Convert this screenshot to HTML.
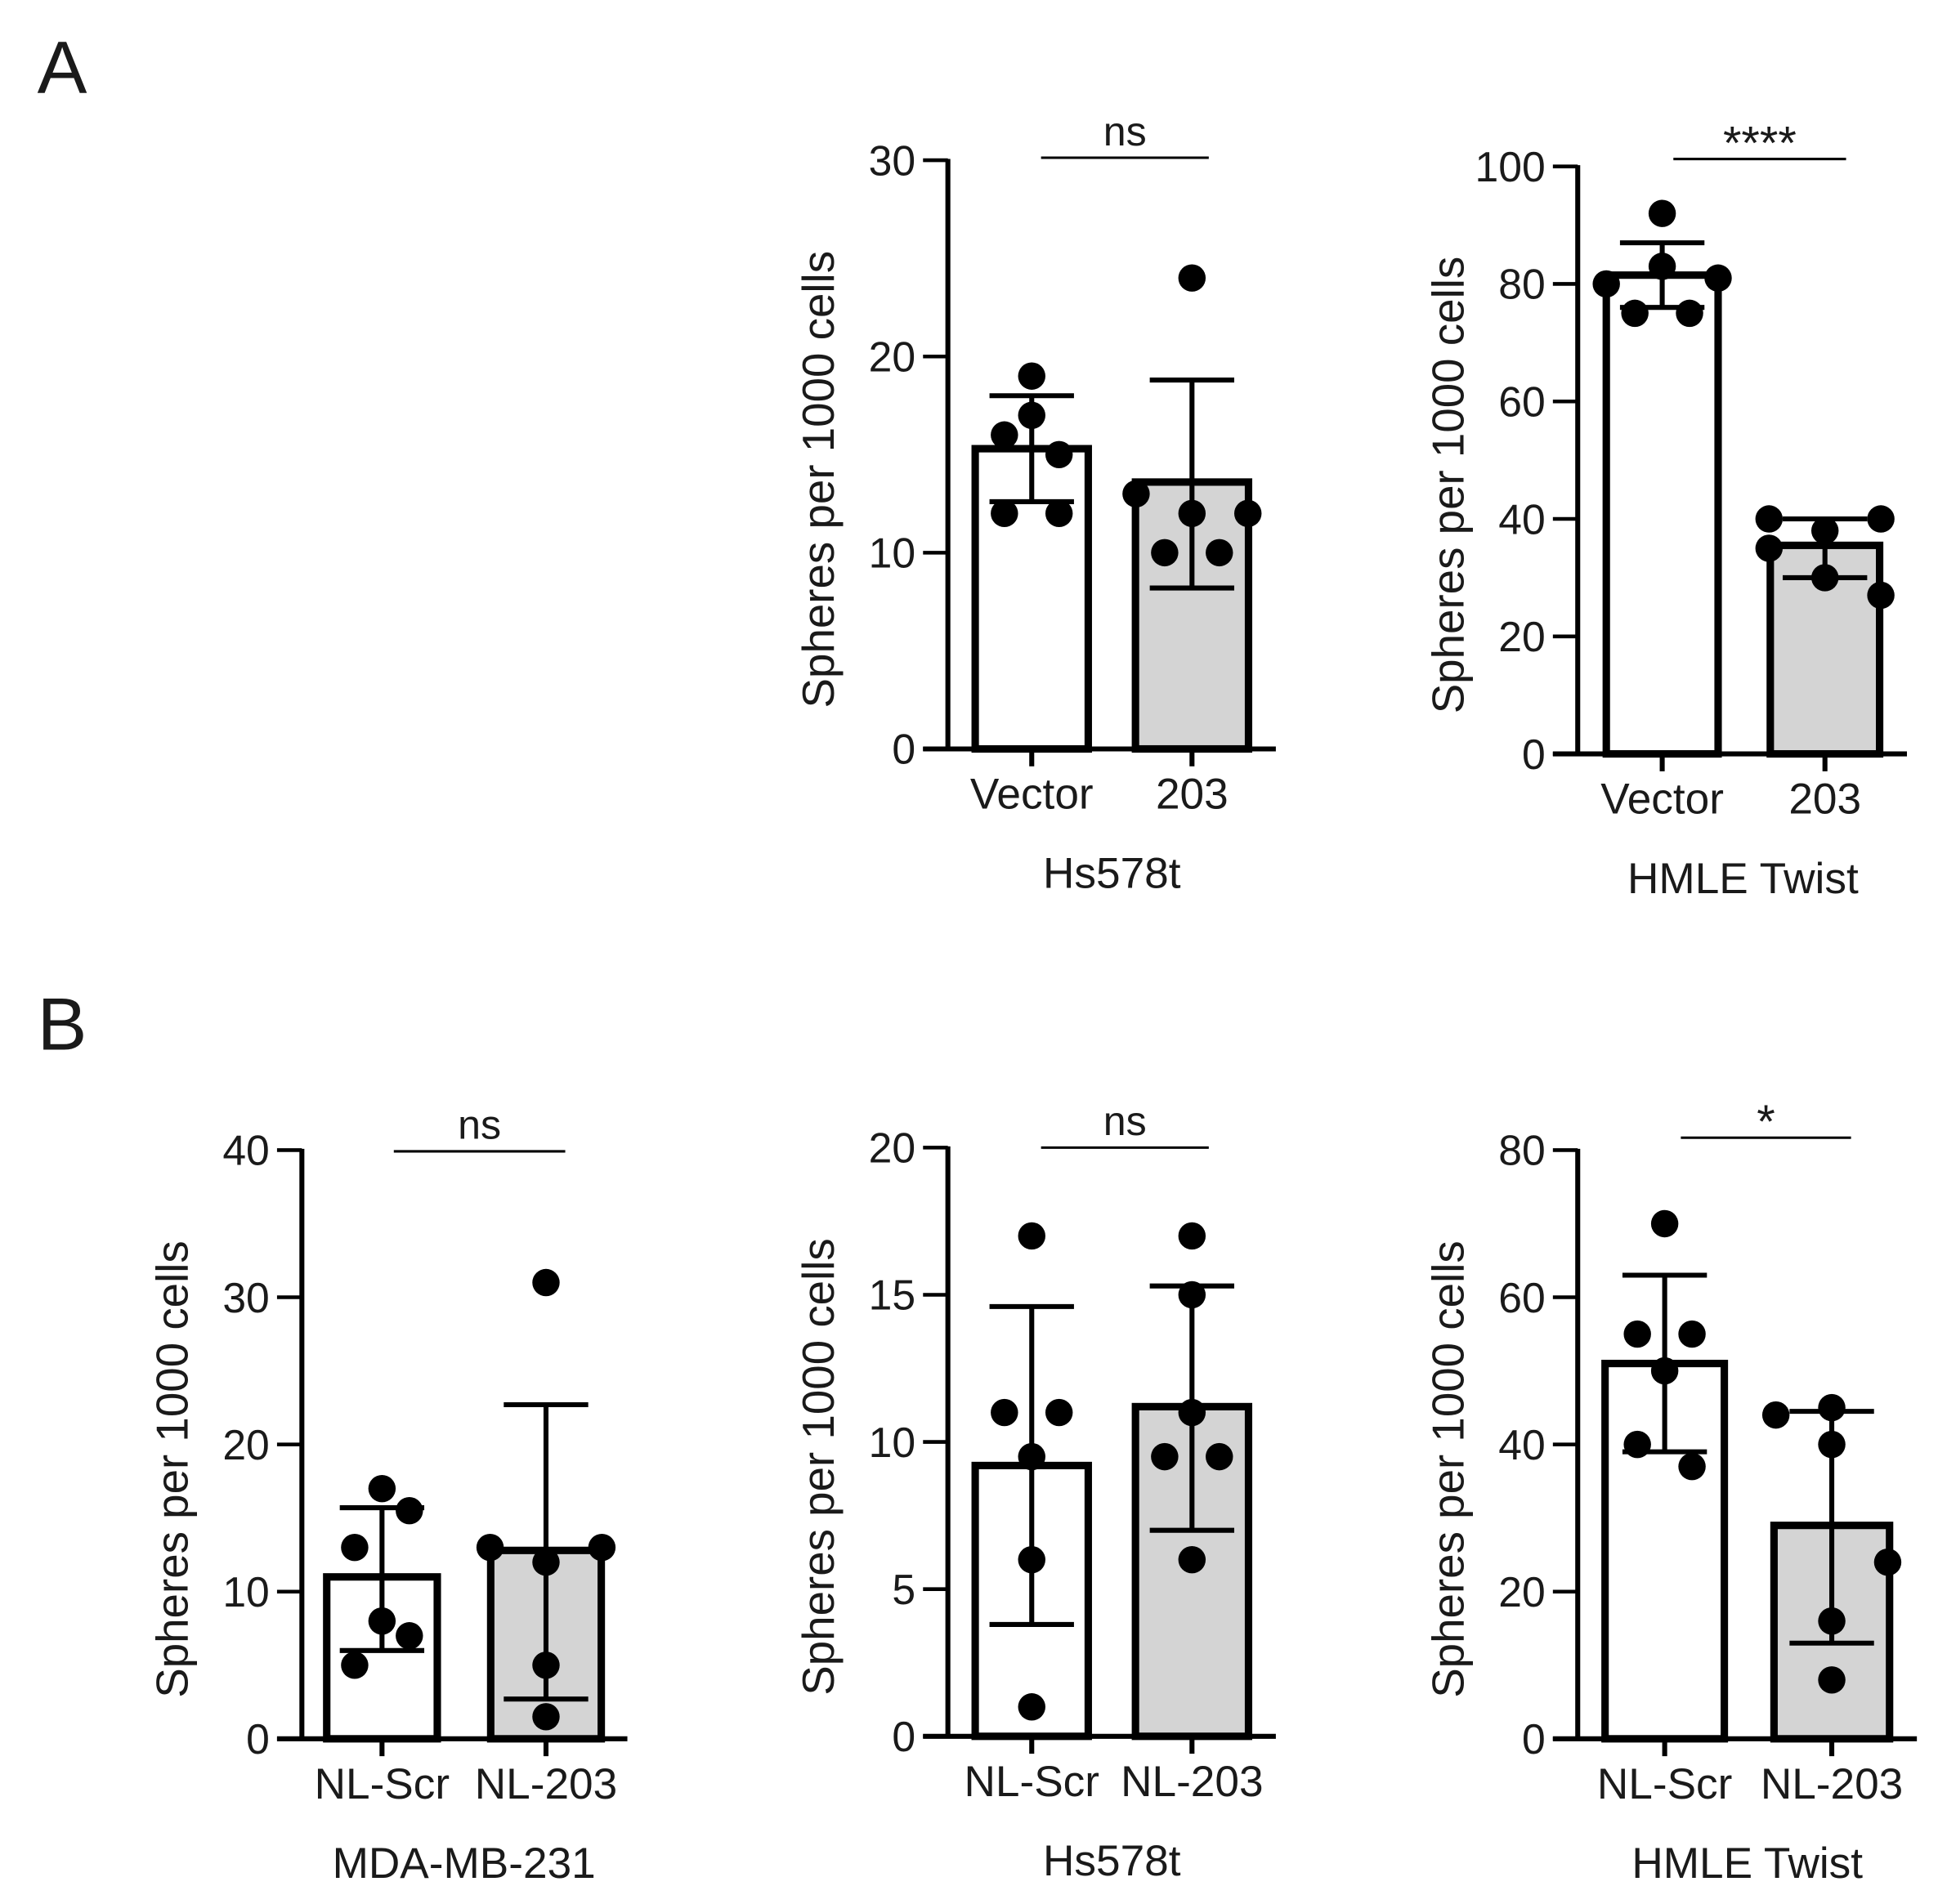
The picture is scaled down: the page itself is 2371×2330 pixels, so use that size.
<!DOCTYPE html>
<html><head><meta charset="utf-8"><style>
html,body{margin:0;padding:0;background:#fff}
svg{display:block}
text{font-family:"Liberation Sans",Arial,sans-serif;fill:#1a1a1a}
</style></head><body>
<svg id="fig" width="2371" height="2330" viewBox="0 0 1560 1533" xmlns="http://www.w3.org/2000/svg">
<text x="30" y="75" font-size="60">A</text>
<text x="30" y="845" font-size="60">B</text>
</svg>
<script>
// Panel data arrays
const catsA = ["Vector", "203"];
const catsB = ["NL-Scr", "NL-203"];
const a1Means = [15.3, 13.6];
const a1Lo = [12.6, 8.2];
const a1Hi = [18.0, 18.8];
const a1Pts = [[19, 17, 16, 15, 12, 12], [24, 13, 12, 12, 10, 10]];
const a1Ticks = [0, 10, 20, 30];
const a2Means = [81.5, 35.5];
const a2Lo = [76, 30];
const a2Hi = [87, 40];
const a2Pts = [[92, 83, 80, 81, 75, 75], [40, 40, 38, 35, 30, 27]];
const a2Ticks = [0, 20, 40, 60, 80, 100];
const b1Means = [11, 12.8];
const b1Lo = [6, 2.7];
const b1Hi = [15.7, 22.7];
const b1Pts = [[17, 15.5, 13, 8, 7, 5], [31, 13, 13, 12, 5, 1.5]];
const b1Ticks = [0, 10, 20, 30, 40];
const b2Means = [9.2, 11.2];
const b2Lo = [3.8, 7.0];
const b2Hi = [14.6, 15.3];
const b2Pts = [[17, 11, 11, 9.5, 6, 1], [17, 15, 11, 9.5, 9.5, 6]];
const b2Ticks = [0, 5, 10, 15, 20];
const b3Means = [51, 29];
const b3Lo = [39, 13];
const b3Hi = [63, 44.5];
const b3Pts = [[70, 55, 55, 50, 40, 37], [45, 44, 40, 24, 16, 8]];
const b3Ticks = [0, 20, 40, 60, 80];

const NS = "http://www.w3.org/2000/svg";
const svg = document.getElementById("fig");
function mk(tag, attrs, parent){const e=document.createElementNS(NS,tag);for(const k in attrs)e.setAttribute(k,attrs[k]);(parent||svg).appendChild(e);return e;}
const jitterA1 = [[0,0,-22,22,-22,22],[0,-45,0,45,-22,22]];
const jitterA2 = [[0,0,-45,45,-22,22],[-45,45,0,-45,0,45]];
const jitterB1 = [[0,22,-22,0,22,-22],[0,-45,45,0,0,0]];
const jitterB2 = [[0,-22,22,0,0,0],[0,0,0,-22,22,0]];
const jitterB3 = [[0,-22,22,0,-22,22],[0,-45,0,45,0,0]];

function panel(o){
  const g = mk("g", {});
  
  
  const ymax = o.ticks[o.ticks.length-1];
  const y = v => o.y0 - (v/ymax)*(o.y0-o.yTop);
  const ax = mk("line",{x1:o.ax,y1:o.yTop-1,x2:o.ax,y2:o.y0,stroke:"#000","stroke-width":4},g);
  
  
  o.ticks.forEach(t=>{
    mk("line",{x1:o.ax-20,y1:y(t),x2:o.ax,y2:y(t),stroke:"#000","stroke-width":3},g);
    const tl = mk("text",{x:o.ax-26,y:y(t)+12,"font-size":34,"text-anchor":"end"},g);
    tl.textContent=t;
    
    
  });
  const xa = mk("line",{x1:o.ax-20,y1:o.y0,x2:o.xEnd,y2:o.y0,stroke:"#000","stroke-width":4},g);
  
  
  const yc=(o.yTop+o.y0)/2+20;
  const tx=o.ax-105;
  const yt = mk("text",{x:tx,y:yc,"font-size":36,"text-anchor":"middle",transform:`rotate(-90 ${tx} ${yc})`,dy:13},g);
  yt.textContent="Spheres per 1000 cells";
  
  
  o.cats.forEach((c,i)=>{
    const bx=o.bars[i][0], bw=o.bars[i][1]-o.bars[i][0], cx=bx+bw/2;
    const bar = mk("rect",{x:bx,y:y(o.means[i]),width:bw,height:o.y0-y(o.means[i]),fill:i?"#d4d4d4":"#fff",stroke:"#000","stroke-width":6},g);
    
    
    mk("line",{x1:cx,y1:o.y0,x2:cx,y2:o.y0+14,stroke:"#000","stroke-width":4},g);
    const xl = mk("text",{x:cx,y:o.y0+48,"font-size":35,"text-anchor":"middle"},g);
    xl.textContent=c;
    
    
    const eb = mk("path",{d:`M${cx},${y(o.lo[i])}V${y(o.hi[i])}M${cx-34},${y(o.hi[i])}H${cx+34}M${cx-34},${y(o.lo[i])}H${cx+34}`,stroke:"#000","stroke-width":4,fill:"none"},g);
    
    
    o.pts[i].forEach((p,j)=>{
      const d = mk("circle",{cx:cx+o.jit[i][j],cy:y(p),r:11,fill:"#000"},g);
      
      
    });
  });
  const sl = mk("line",{x1:o.sig[0],y1:o.sig[2],x2:o.sig[1],y2:o.sig[2],stroke:"#000","stroke-width":2},g);
  
  
  const st = mk("text",{x:(o.sig[0]+o.sig[1])/2,y:o.sig[2]-(o.sigTxt==="ns"?10:0),"font-size":o.sigTxt==="ns"?33:38,"text-anchor":"middle"},g);
  st.textContent=o.sigTxt;
  
  
  const tt = mk("text",{x:(o.bars[0][0]+o.bars[1][1])/2,y:o.y0+112,"font-size":35,"text-anchor":"middle"},g);
  tt.textContent=o.title;
  
  
}
panel({name:"panel-a-hs578t",cats:catsA,means:a1Means,lo:a1Lo,hi:a1Hi,pts:a1Pts,ticks:a1Ticks,ax:763,yTop:129,y0:603,xEnd:1027,bars:[[785,876],[914,1005]],sig:[838,973,127],sigTxt:"ns",title:"Hs578t",jit:jitterA1});
panel({name:"panel-a-hmle-twist",cats:catsA,means:a2Means,lo:a2Lo,hi:a2Hi,pts:a2Pts,ticks:a2Ticks,ax:1270,yTop:134,y0:607,xEnd:1535,bars:[[1293,1383],[1425,1513]],sig:[1347,1486,128],sigTxt:"****",title:"HMLE Twist",jit:jitterA2});
panel({name:"panel-b-mda-mb-231",cats:catsB,means:b1Means,lo:b1Lo,hi:b1Hi,pts:b1Pts,ticks:b1Ticks,ax:243,yTop:926,y0:1400,xEnd:505,bars:[[263,352],[395,484]],sig:[317,455,927],sigTxt:"ns",title:"MDA-MB-231",jit:jitterB1});
panel({name:"panel-b-hs578t",cats:catsB,means:b2Means,lo:b2Lo,hi:b2Hi,pts:b2Pts,ticks:b2Ticks,ax:763,yTop:924,y0:1398,xEnd:1027,bars:[[785,876],[914,1005]],sig:[838,973,924],sigTxt:"ns",title:"Hs578t",jit:jitterB2});
panel({name:"panel-b-hmle-twist",cats:catsB,means:b3Means,lo:b3Lo,hi:b3Hi,pts:b3Pts,ticks:b3Ticks,ax:1270,yTop:926,y0:1400,xEnd:1543,bars:[[1292,1388],[1428,1521]],sig:[1353,1490,916],sigTxt:"*",title:"HMLE Twist",jit:jitterB3});
</script>
</body></html>
